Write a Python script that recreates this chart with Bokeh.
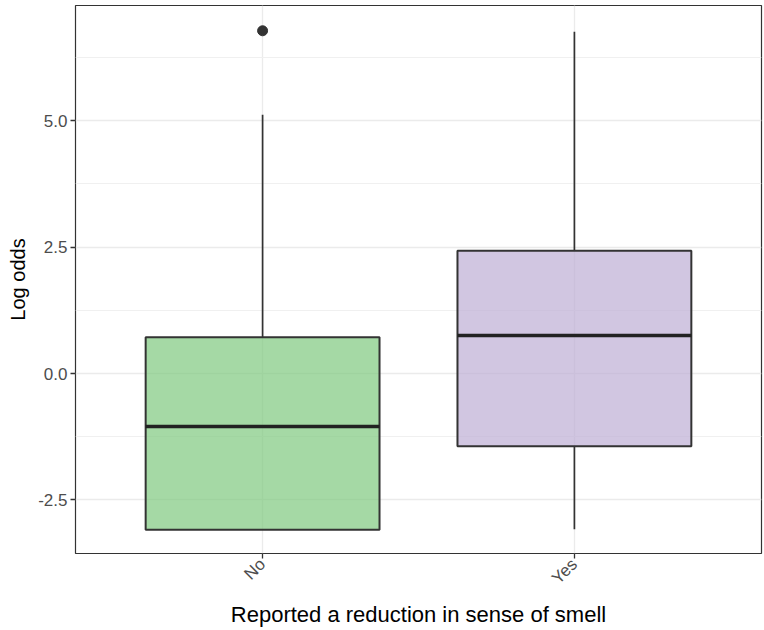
import math
from bokeh.plotting import figure
from bokeh.models import FactorRange, Range1d, FixedTicker, ColumnDataSource, NumeralTickFormatter
from bokeh.transform import dodge
from bokeh.embed import file_html
from bokeh.resources import INLINE

# ---- data ----
categories = ["No", "Yes"]
q1 = [-3.09, -1.44]
median = [-1.05, 0.75]
q3 = [0.72, 2.43]
whisker_low = [-3.09, -3.08]
whisker_high = [5.12, 6.76]
outlier_cat = ["No"]
outlier_val = [6.78]
fill_colors = ["#7FC97F", "#BEAED4"]
y_ticks = [-2.5, 0.0, 2.5, 5.0]
y_minor = [-1.25, 1.25, 3.75, 6.25]

FONT = "Liberation Sans"
BOX_W = 0.75

src = ColumnDataSource(dict(cat=categories, q1=q1, med=median, q3=q3,
                            lo=whisker_low, hi=whisker_high, color=fill_colors))

xr = FactorRange(factors=categories, range_padding=0.1)
p = figure(width=764, height=630, output_backend="svg", toolbar_location=None,
           x_range=xr, y_range=Range1d(-3.56, 7.28),
           min_border_left=75, min_border_right=3, min_border_top=5, min_border_bottom=77)

p.background_fill_color = "white"
p.border_fill_color = "white"
p.outline_line_color = "#333333"
p.outline_line_width = 1.2

# whiskers
p.segment(x0="cat", y0="q3", x1="cat", y1="hi", source=src, line_color="#333333", line_width=1.7)
p.segment(x0="cat", y0="lo", x1="cat", y1="q1", source=src, line_color="#333333", line_width=1.7)
# boxes
p.vbar(x="cat", top="q3", bottom="q1", width=BOX_W, source=src, fill_color="color",
       fill_alpha=0.7, line_color="#333333", line_width=2)
# medians
p.segment(x0=dodge("cat", -BOX_W / 2, range=xr), x1=dodge("cat", BOX_W / 2, range=xr),
          y0="med", y1="med", source=src, line_color="#222222", line_width=3.5)
# outliers
p.scatter(x=outlier_cat, y=outlier_val, size=10, color="#333333")

# grid
p.xgrid.grid_line_color = "#ebebeb"
p.xgrid.grid_line_width = 1.3
p.ygrid.grid_line_color = "#ebebeb"
p.ygrid.grid_line_width = 1.3
p.ygrid.minor_grid_line_color = "#f0f0f0"
p.ygrid.minor_grid_line_width = 1.0
p.yaxis.ticker = FixedTicker(ticks=y_ticks, minor_ticks=y_minor)
p.yaxis.formatter = NumeralTickFormatter(format="0.0")

for ax in (p.xaxis[0], p.yaxis[0]):
    ax.axis_line_color = None
    ax.major_tick_line_color = "#333333"
    ax.major_tick_line_width = 1.3
    ax.major_tick_out = 5
    ax.major_tick_in = 0
    ax.minor_tick_line_color = None
    ax.major_label_text_font = FONT
    ax.major_label_text_font_size = "17px"
    ax.major_label_text_color = "#4d4d4d"
    ax.axis_label_text_font = FONT
    ax.axis_label_text_font_style = "normal"
    ax.axis_label_text_color = "black"

p.xaxis.axis_label_text_font_size = "22px"
p.yaxis.axis_label_text_font_size = "20px"
p.xaxis.major_label_orientation = math.pi / 4
p.xaxis.axis_label = "Reported a reduction in sense of smell"
p.yaxis.axis_label = "Log odds"
p.yaxis.major_label_standoff = 3
p.xaxis.major_label_standoff = 3
p.xaxis.axis_label_standoff = 4
p.yaxis.axis_label_standoff = 6

open("out.html", "w").write(file_html(p, INLINE))
